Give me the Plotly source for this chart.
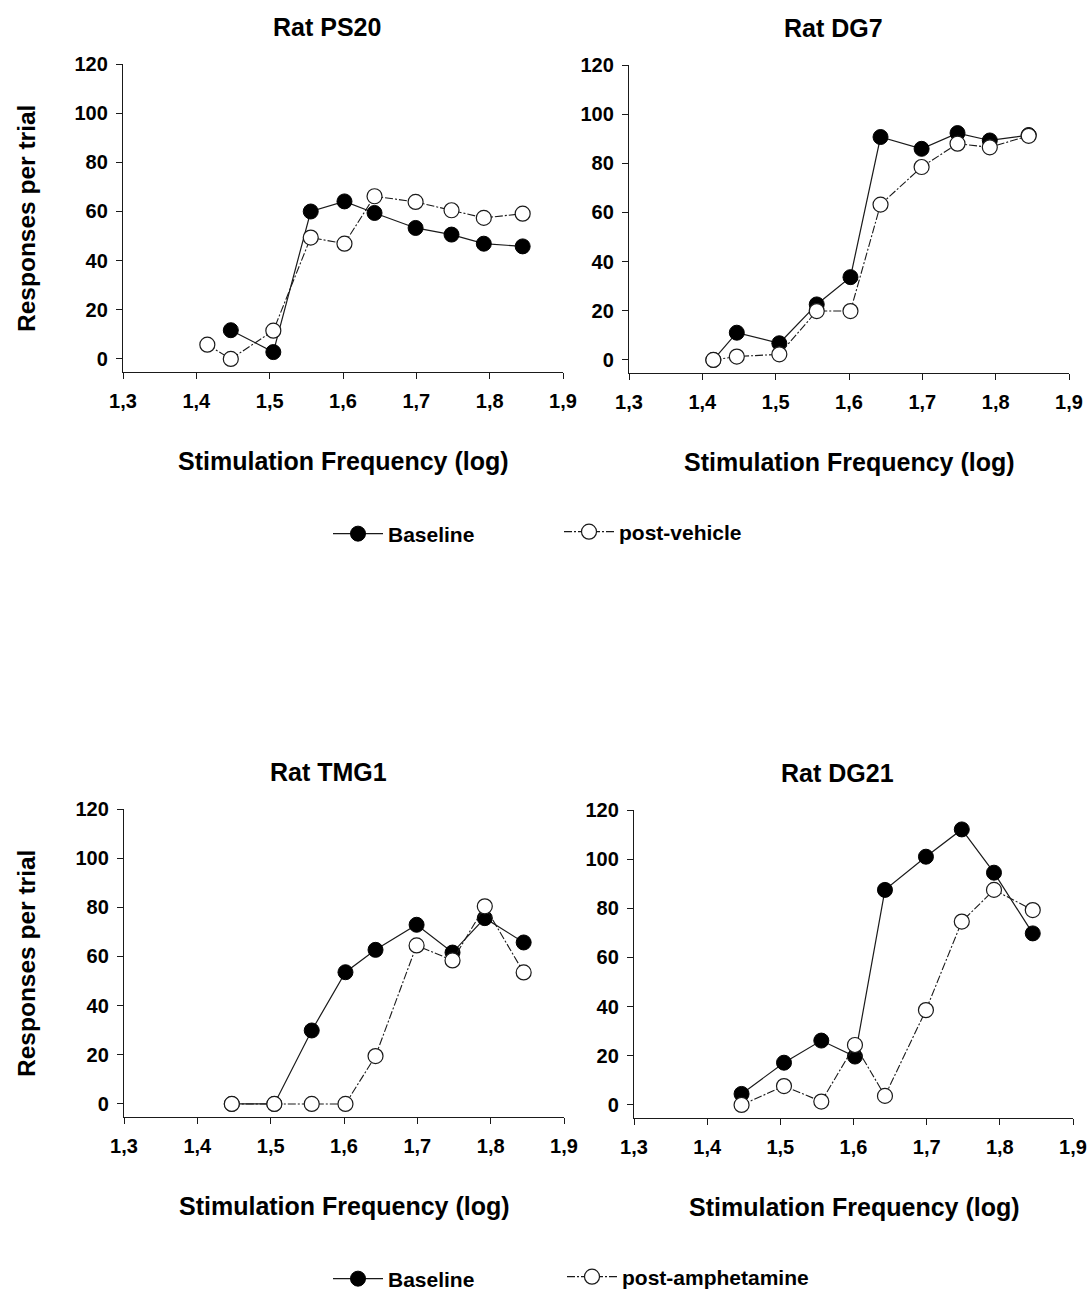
import plotly.graph_objects as go

# ---------------- data ----------------
freq_top = [1.415, 1.447, 1.505, 1.556, 1.602, 1.643, 1.699, 1.748, 1.792, 1.845]
freq_bottom = [1.447, 1.505, 1.556, 1.602, 1.643, 1.699, 1.748, 1.792, 1.845]

ps20_baseline = [None, 11.7, 2.8, 60.0, 64.1, 59.4, 53.3, 50.6, 46.9, 45.8]
ps20_vehicle = [5.8, 0.0, 11.5, 49.4, 46.9, 66.2, 63.9, 60.5, 57.4, 59.1]

dg7_baseline = [0.0, 11.1, 6.8, 22.6, 33.7, 90.7, 85.9, 92.3, 89.3, 91.5]
dg7_vehicle = [0.0, 1.4, 2.3, 19.9, 19.9, 63.2, 78.5, 88.0, 86.5, 91.2]

tmg1_baseline = [0.0, 0.0, 29.9, 53.6, 62.7, 72.9, 61.6, 75.6, 65.7]
tmg1_amph = [0.0, 0.0, 0.0, 0.0, 19.5, 64.5, 58.4, 80.4, 53.5]

dg21_baseline = [4.5, 17.2, 26.2, 19.7, 87.5, 101.0, 112.1, 94.5, 69.8]
dg21_amph = [0.0, 7.7, 1.4, 24.4, 3.7, 38.6, 74.6, 87.5, 79.3]

x_tickvals = [1.3, 1.4, 1.5, 1.6, 1.7, 1.8, 1.9]
x_ticktext = ["1,3", "1,4", "1,5", "1,6", "1,7", "1,8", "1,9"]
y_tickvals = [0, 20, 40, 60, 80, 100, 120]

panel_titles = ["Rat PS20", "Rat DG7", "Rat TMG1", "Rat DG21"]
x_title = "Stimulation Frequency (log)"
y_title = "Responses per trial"
# ---------------------------------------

W, H = 1091, 1290
FONT = "Liberation Sans, Arial, sans-serif"
INK = "#1a1a1a"

fig = go.Figure()

panels = [
    # (x data, baseline, post, post name, legends, showlegend)
    (freq_top, ps20_baseline, ps20_vehicle, "post-vehicle", ("legend", "legend2"), True),
    (freq_top, dg7_baseline, dg7_vehicle, "post-vehicle", ("legend", "legend2"), False),
    (freq_bottom, tmg1_baseline, tmg1_amph, "post-amphetamine", ("legend3", "legend4"), True),
    (freq_bottom, dg21_baseline, dg21_amph, "post-amphetamine", ("legend3", "legend4"), False),
]

# pixel geometry of each plot area: (left, right, top, bottom)
boxes = [
    (123, 563, 64, 372),
    (629, 1069, 65, 373),
    (124, 564, 809, 1117),
    (634, 1073, 810, 1118),
]

for i, (xs, base, post, pname, legs, show) in enumerate(panels):
    n = "" if i == 0 else str(i + 1)
    fig.add_trace(go.Scatter(
        x=xs, y=base, mode="lines+markers", name="Baseline",
        xaxis="x" + n, yaxis="y" + n, legend=legs[0], showlegend=show,
        line=dict(color=INK, width=1.2),
        marker=dict(symbol="circle", size=15, color="black",
                    line=dict(color="black", width=1)),
    ))
    fig.add_trace(go.Scatter(
        x=xs, y=post, mode="lines+markers", name=pname,
        xaxis="x" + n, yaxis="y" + n, legend=legs[1], showlegend=show,
        line=dict(color=INK, width=1.1, dash="8px,2px,2px,2px"),
        marker=dict(symbol="circle", size=15, color="white",
                    line=dict(color=INK, width=1.2)),
    ))

layout = dict(
    width=W, height=H,
    margin=dict(l=0, r=0, t=0, b=0, autoexpand=False),
    paper_bgcolor="white", plot_bgcolor="white",
    font=dict(family=FONT, color="black"),
    annotations=[],
)

for i, (l, r, t, b) in enumerate(boxes):
    n = "" if i == 0 else str(i + 1)
    layout["xaxis" + n] = dict(
        domain=[l / W, r / W], anchor="y" + n, range=[1.3, 1.9],
        tickmode="array", tickvals=x_tickvals, ticktext=x_ticktext,
        ticks="outside", ticklen=6, tickwidth=1.2, tickcolor=INK,
        ticklabelstandoff=5,
        showline=True, linecolor=INK, linewidth=1.3, showgrid=False,
        zeroline=False, tickfont=dict(size=20, weight="bold", color="black"),
        fixedrange=True,
    )
    layout["yaxis" + n] = dict(
        domain=[1 - b / H, 1 - t / H], anchor="x" + n, range=[-5.3, 120],
        tickmode="array", tickvals=y_tickvals,
        ticks="outside", ticklen=6, tickwidth=1.2, tickcolor=INK,
        ticklabelstandoff=4,
        showline=True, linecolor=INK, linewidth=1.3, showgrid=False,
        zeroline=False, tickfont=dict(size=20, weight="bold", color="black"),
        fixedrange=True,
    )
    cx = (l + r) / 2
    # panel title
    layout["annotations"].append(dict(
        text=panel_titles[i], x=(cx - 16) / W, y=1 - (t - 37) / H,
        xref="paper", yref="paper", showarrow=False,
        xanchor="center", yanchor="middle",
        font=dict(size=25, weight="bold", family=FONT, color="black"),
    ))
    # x axis title
    layout["annotations"].append(dict(
        text=x_title, x=(l + 220) / W, y=1 - (b + 89) / H,
        xref="paper", yref="paper", showarrow=False,
        xanchor="center", yanchor="middle",
        font=dict(size=25, weight="bold", family=FONT, color="black"),
    ))
    # y axis title (left panels only)
    if i in (0, 2):
        layout["annotations"].append(dict(
            text=y_title, x=26 / W, y=1 - ((t + b) / 2 + 1) / H,
            xref="paper", yref="paper", showarrow=False, textangle=-90,
            xanchor="center", yanchor="middle",
            font=dict(size=24.5, weight="bold", family=FONT, color="black"),
        ))

leg_common = dict(
    orientation="h", xanchor="left", yanchor="middle",
    font=dict(size=21, weight="bold", family=FONT, color="black"),
    bgcolor="rgba(0,0,0,0)", itemwidth=50,
    itemclick=False, itemdoubleclick=False,
)
layout["legend"] = dict(leg_common, x=328 / W, y=1 - 534 / H)
layout["legend2"] = dict(leg_common, x=559 / W, y=1 - 532 / H)
layout["legend3"] = dict(leg_common, x=328 / W, y=1 - 1279 / H)
layout["legend4"] = dict(leg_common, x=562 / W, y=1 - 1277 / H)

fig.update_layout(**layout)
fig.write_html("out.html")
